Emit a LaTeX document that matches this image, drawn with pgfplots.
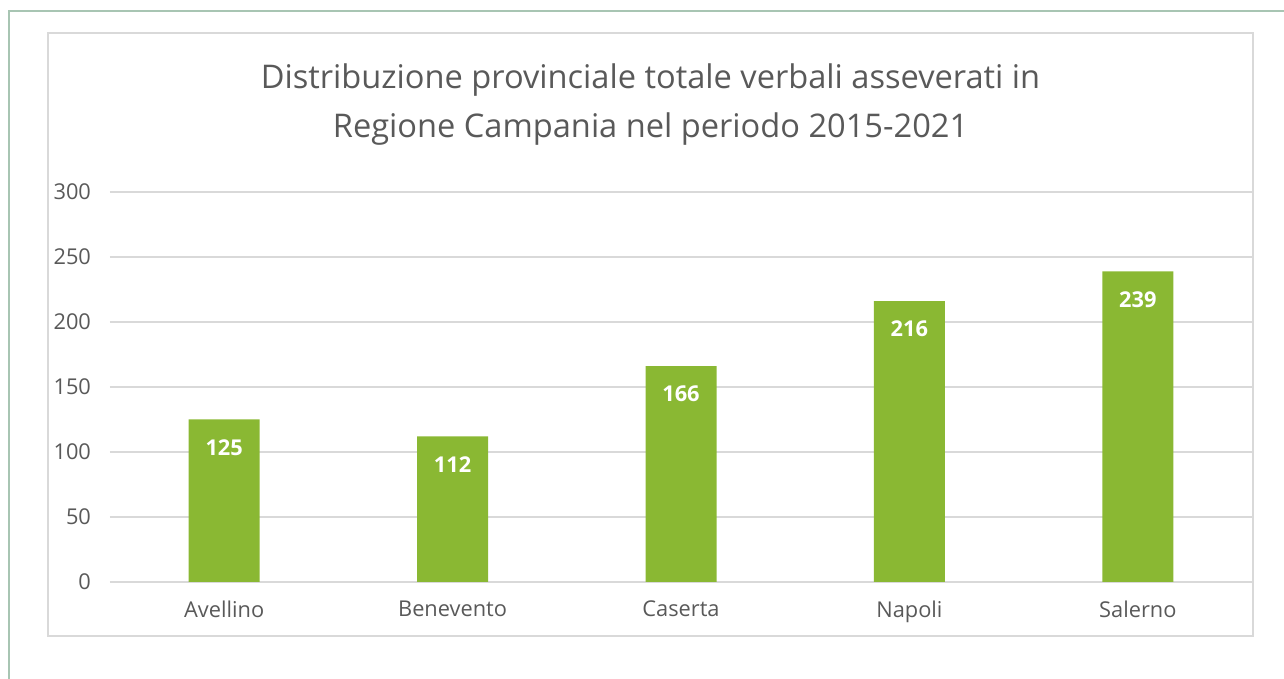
\documentclass[border=0pt]{standalone}
\usepackage{fontspec}
\setmainfont{Open Sans}
\usepackage{pgfplots}
\pgfplotsset{compat=1.18}
\definecolor{bargreen}{HTML}{8AB833}
\definecolor{gridgray}{HTML}{D9D9D9}
\definecolor{txtgray}{HTML}{595959}
\definecolor{framegreen}{HTML}{A8C5B3}
\begin{document}
\begin{tikzpicture}[x=0.5pt,y=0.5pt]
% picture extent in px (1 px = 0.5pt), origin = plot area lower left
\useasboundingbox (-110,-97) rectangle (1174,582);
\draw[framegreen, line width=1.2pt] (-101,-97) -- (-101,571) -- (1174,571);
\draw[gridgray, line width=1pt] (-62,-54) rectangle (1143,549);
\node[txtgray, align=center, font=\fontsize{16.3}{24.5}\selectfont] at (540.5,477)
  {Distribuzione provinciale totale verbali asseverati in\\Regione Campania nel periodo 2015-2021};
\begin{axis}[
    at={(0,0)}, anchor=south west,
    scale only axis,
    width=571pt, height=195pt,
    xmin=-0.5, xmax=4.5,
    ymin=0, ymax=300,
    ytick={0,50,...,300},
    xtick=data,
    xticklabels={Avellino,Benevento,Caserta,Napoli,Salerno},
    axis x line*=bottom,
    axis y line*=left,
    x axis line style={draw=gridgray, line width=0.8pt},
    y axis line style={draw=none},
    ymajorgrids,
    grid style={gridgray, line width=0.8pt},
    major tick length=0pt,
    tick style={draw=none},
    every tick label/.append style={txtgray, font=\fontsize{10.9}{12}\selectfont},
    yticklabel style={xshift=-6pt},
    xticklabel style={yshift=-6pt},
    /pgf/number format/assume math mode=true,
    clip=false,
]
\addplot[ybar, bar width=35.5pt, fill=bargreen, draw=none,
    nodes near coords,
    nodes near coords style={white, font=\bfseries\fontsize{10.9}{12}\selectfont, anchor=center, yshift=-14pt},
] coordinates {(0,125) (1,112) (2,166) (3,216) (4,239)};
\end{axis}
\end{tikzpicture}
\end{document}
